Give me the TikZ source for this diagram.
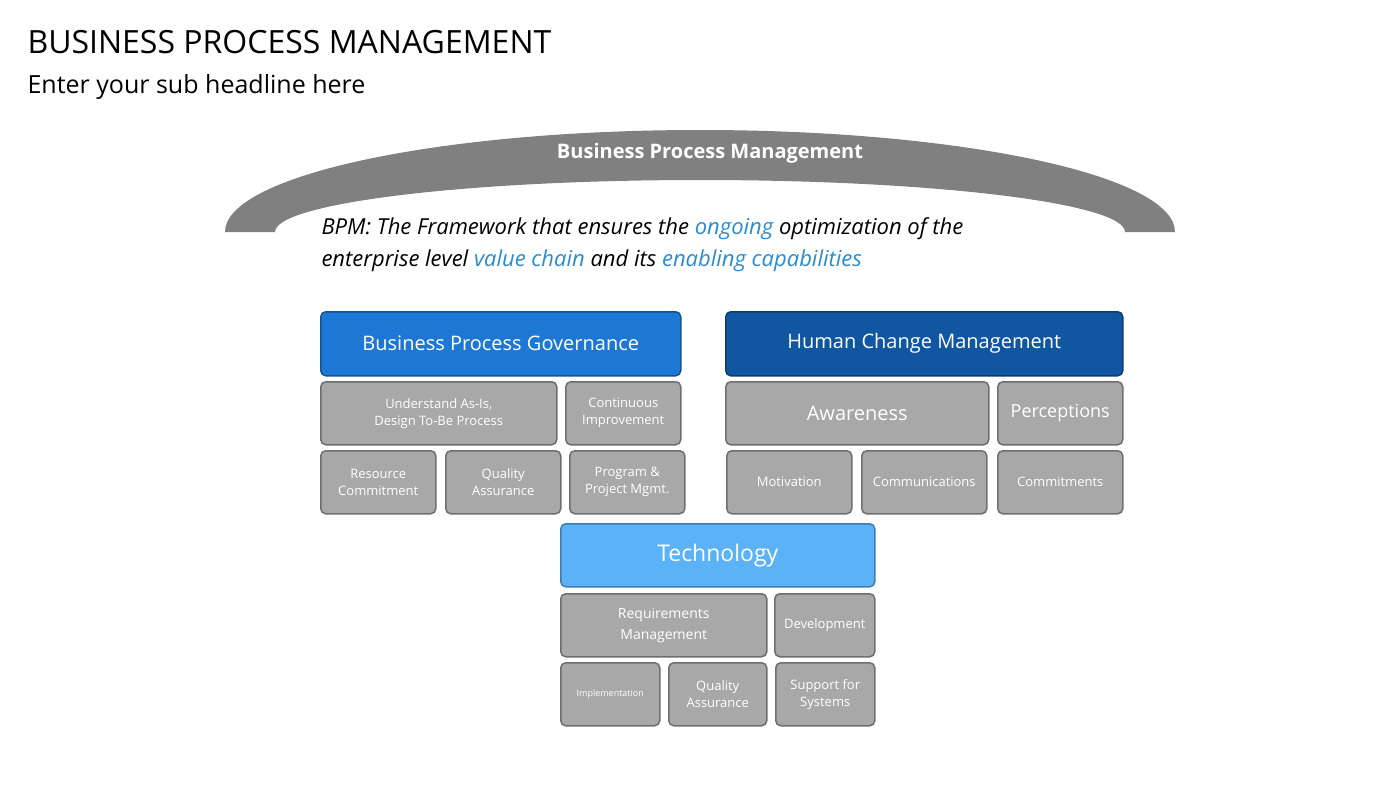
\documentclass[tikz,border=0pt]{standalone}
\usepackage{fontspec}
\setmainfont{Open Sans}
\usetikzlibrary{positioning}
\definecolor{bandgray}{RGB}{128,128,128}
\definecolor{boxgray}{RGB}{168,168,168}
\definecolor{edgegray}{RGB}{110,110,110}
\definecolor{govblue}{RGB}{28,120,212}
\definecolor{hcmblue}{RGB}{16,86,160}
\definecolor{techblue}{RGB}{92,178,246}
\definecolor{linkblue}{RGB}{40,140,210}
\tikzset{
  box/.style={draw=edgegray,line width=1.5pt,rounded corners=5pt,fill=boxgray,
    text=white,align=center,anchor=north west,inner sep=0pt,font=\fontsize{13}{17}\selectfont},
  head/.style={box,font=\fontsize{20}{23}\selectfont},
}
\newcommand{\bx}[6]{\node[#1,minimum width=#4-#2,minimum height=#5-#3] at (#2,#3) {#6};}
\begin{document}
\begin{tikzpicture}[x=1pt,y=-1pt]
\useasboundingbox (0,0) rectangle (1400,788);
\node[anchor=west,font=\fontsize{32}{35}\selectfont] (title) at (24,42) {BUSINESS PROCESS MANAGEMENT};
\node[anchor=west,font=\fontsize{25}{28}\selectfont] (sub) at (24,87) {Enter your sub headline here};
% arch
\fill[bandgray] (225,232) arc[start angle=180,end angle=360,x radius=475,y radius=102]
  -- (1125,232) arc[start angle=360,end angle=180,x radius=425,y radius=52] -- cycle;
\node[text=white,font=\bfseries\fontsize{20}{23}\selectfont] (band) at (710,153) {Business Process Management};
\node[anchor=west,align=left,font=\itshape\fontsize{22}{32}\selectfont] (bpm) at (318,245)
  {BPM: The Framework that ensures the \textcolor{linkblue}{ongoing} optimization of the\\
   enterprise level \textcolor{linkblue}{value chain} and its \textcolor{linkblue}{enabling capabilities}};
% governance
\bx{head,fill=govblue,draw=govblue!70!black}{320}{311}{680}{375}{Business Process Governance}
\bx{box}{320}{381}{556}{444}{Understand As-Is,\\Design To-Be Process}
\bx{box}{565}{381}{680}{444}{Continuous\\Improvement}
\bx{box}{320}{450}{435}{513}{Resource\\Commitment}
\bx{box}{445}{450}{560}{513}{Quality\\Assurance}
\bx{box}{569}{450}{684}{513}{Program \&\\Project Mgmt.}
% human change
\bx{head,fill=hcmblue,draw=hcmblue!70!black}{725}{311}{1122}{375}{Human Change Management}
\bx{head,fill=boxgray}{725}{381}{988}{444}{Awareness}
\bx{head,fill=boxgray,font=\fontsize{18}{21}\selectfont}{997}{381}{1122}{444}{Perceptions}
\bx{box}{726}{450}{851}{513}{Motivation}
\bx{box}{861}{450}{986}{513}{Communications}
\bx{box}{997}{450}{1122}{513}{Commitments}
% technology
\bx{head,fill=techblue,draw=techblue!70!black,font=\fontsize{23}{26}\selectfont}{560}{523}{874}{586}{Technology}
\bx{box,font=\fontsize{14}{21}\selectfont}{560}{593}{766}{656}{Requirements\\Management}
\bx{box}{774}{593}{874}{656}{Development}
\bx{box,font=\fontsize{9}{11}\selectfont}{560}{662}{659}{725}{Implementation}
\bx{box}{668}{662}{766}{725}{Quality\\Assurance}
\bx{box}{775}{662}{874}{725}{Support for\\Systems}
\end{tikzpicture}
\end{document}
